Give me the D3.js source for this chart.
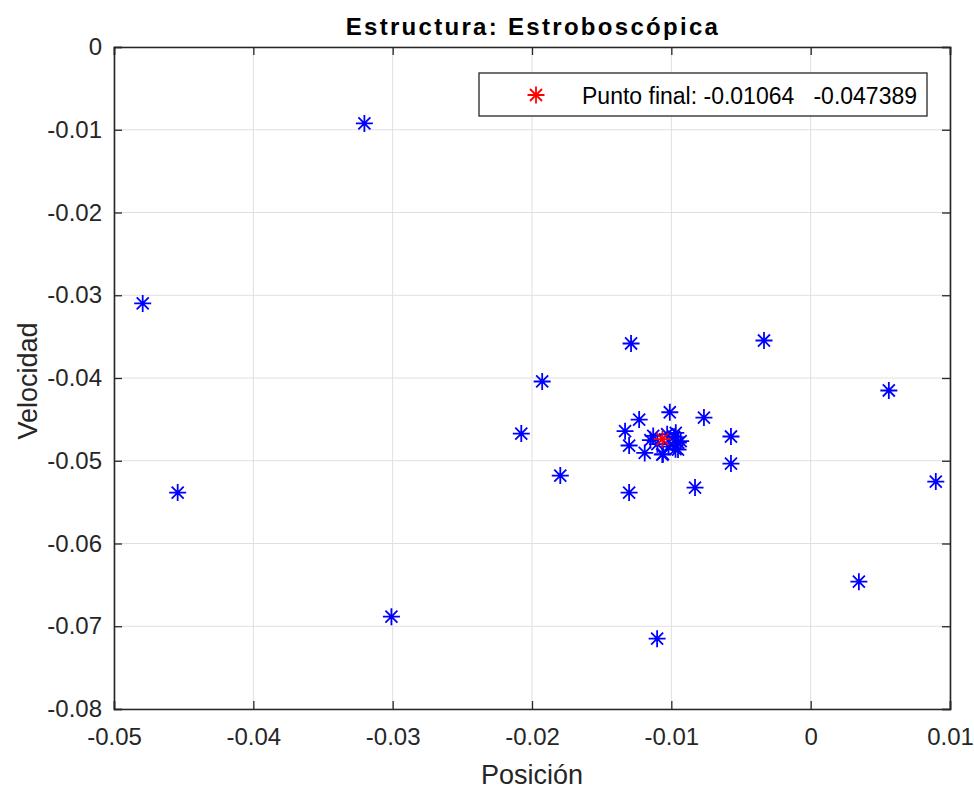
<!DOCTYPE html>
<html><head><meta charset="utf-8">
<script src="https://cdn.jsdelivr.net/npm/d3@7/dist/d3.min.js"></script>
<style>body{margin:0;background:#fff;} text{font-family:"Liberation Sans",Arial,sans-serif;}</style>
</head><body><svg id="c" width="974" height="789"></svg>
<script>
const xTicks = [-0.05,-0.04,-0.03,-0.02,-0.01,0,0.01];
const yTicks = [0,-0.01,-0.02,-0.03,-0.04,-0.05,-0.06,-0.07,-0.08];
const xTickLabels = ["-0.05","-0.04","-0.03","-0.02","-0.01","0","0.01"];
const yTickLabels = ["0","-0.01","-0.02","-0.03","-0.04","-0.05","-0.06","-0.07","-0.08"];
const posX = [-0.03203,-0.04794,-0.04543,-0.03009,-0.01289,-0.01927,-0.02077,-0.01797,-0.01303,-0.00335,0.00561,0.00898,0.00346,-0.01102,-0.00830,-0.00572,-0.00572,-0.00766,-0.01011,-0.01231,-0.01332,-0.01303,-0.01191,-0.01065,-0.00952,-0.00933,-0.00968,-0.01130,-0.01030,-0.00980,-0.00950,-0.00970,-0.01020,-0.01100,-0.01150,-0.01060];
const velY = [-0.00923,-0.03099,-0.05384,-0.06884,-0.03583,-0.04042,-0.04671,-0.05179,-0.05384,-0.03547,-0.04151,-0.05252,-0.06461,-0.07150,-0.05324,-0.05034,-0.04707,-0.04478,-0.04414,-0.04502,-0.04643,-0.04816,-0.04905,-0.04925,-0.04865,-0.04764,-0.04663,-0.04700,-0.04680,-0.04710,-0.04780,-0.04860,-0.04830,-0.04800,-0.04750,-0.04920];
const finalPoint = [-0.01064,-0.047389];
const titleText = "Estructura: Estroboscópica";
const xLabel = "Posición", yLabel = "Velocidad";
const legendText = "Punto final: -0.01064   -0.047389";

const svg = d3.select("#c");
const L=114, T=47, W=836, H=662;
const x = d3.scaleLinear().domain([-0.05,0.01]).range([L,L+W]);
const y = d3.scaleLinear().domain([-0.08,0]).range([T+H,T]);
const axisCol="#262626";

// grid
svg.append("g").selectAll("line").data(xTicks).join("line")
 .attr("x1",d=>x(d)).attr("x2",d=>x(d)).attr("y1",T).attr("y2",T+H)
 .attr("stroke","#dfdfdf").attr("stroke-width",1);
svg.append("g").selectAll("line").data(yTicks).join("line")
 .attr("y1",d=>y(d)).attr("y2",d=>y(d)).attr("x1",L).attr("x2",L+W)
 .attr("stroke","#dfdfdf").attr("stroke-width",1);

// axes
const tl=8;
const gx = svg.append("g").attr("transform",`translate(0,${T+H})`)
 .call(d3.axisBottom(x).tickValues(xTicks).tickSize(-tl).tickPadding(19).tickFormat((d,i)=>xTickLabels[i]));
const gxt = svg.append("g").attr("transform",`translate(0,${T})`)
 .call(d3.axisTop(x).tickValues(xTicks).tickSize(-tl).tickFormat(""));
const gy = svg.append("g").attr("transform",`translate(${L},0)`)
 .call(d3.axisLeft(y).tickValues(yTicks).tickSize(-tl).tickPadding(12).tickFormat((d,i)=>yTickLabels[i]));
const gyr = svg.append("g").attr("transform",`translate(${L+W},0)`)
 .call(d3.axisRight(y).tickValues(yTicks).tickSize(-tl).tickFormat(""));
[gx,gxt,gy,gyr].forEach(g=>{
  g.select(".domain").attr("stroke",axisCol).attr("stroke-width",1.6);
  g.selectAll(".tick line").attr("stroke",axisCol).attr("stroke-width",1.3);
  g.selectAll(".tick text").attr("fill",axisCol).style("font-size","24px").style("font-family","Liberation Sans, Arial, sans-serif");
});

// asterisk marker
function star(g, cx, cy, r, col){
  const a = r*Math.SQRT1_2;
  const p = `M${cx-r},${cy}L${cx+r},${cy}M${cx},${cy-r}L${cx},${cy+r}M${cx-a},${cy-a}L${cx+a},${cy+a}M${cx-a},${cy+a}L${cx+a},${cy-a}`;
  g.append("path").attr("d",p).attr("stroke",col).attr("stroke-width",1.8).attr("fill","none");
}
const pg = svg.append("g");
posX.forEach((v,i)=>star(pg,x(v),y(velY[i]),8.5,"#0000ff"));
star(pg,x(finalPoint[0]),y(finalPoint[1]),8.5,"#ff0000");

// legend
const lg = svg.append("g");
lg.append("rect").attr("x",479).attr("y",73).attr("width",448).attr("height",43)
 .attr("fill","#fff").attr("stroke",axisCol).attr("stroke-width",1.3);
star(lg,536,95,8.5,"#ff0000");
lg.append("text").attr("x",582).attr("y",104).style("white-space","pre")
 .attr("fill","#000").style("font-size","23px").text(legendText);

// title & labels
svg.append("text").attr("x",L+W/2+1).attr("y",35).attr("text-anchor","middle")
 .style("font-weight","bold").style("font-size","24px").style("letter-spacing","2.3px").attr("fill","#000").text(titleText);
svg.append("text").attr("x",L+W/2).attr("y",784).attr("text-anchor","middle")
 .style("font-size","27px").attr("fill",axisCol).text(xLabel);
svg.append("text").attr("transform",`translate(37,${T+H/2+3}) rotate(-90)`).attr("text-anchor","middle")
 .style("font-size","27px").attr("fill",axisCol).text(yLabel);
</script></body></html>
